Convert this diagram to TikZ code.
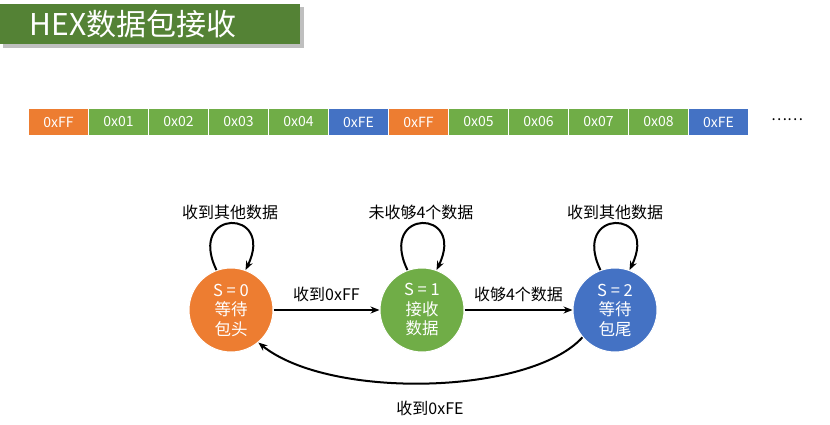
\documentclass[tikz,border=0pt]{standalone}
\usepackage{fontspec}
\setmainfont{Noto Sans CJK SC}
\usetikzlibrary{arrows.meta}
\definecolor{og}{HTML}{ED7D31}
\definecolor{gn}{HTML}{70AD47}
\definecolor{bl}{HTML}{4472C4}
\definecolor{tg}{HTML}{548235}
\begin{document}
\begin{tikzpicture}[x=1pt,y=-1pt,
 cell/.style={draw=white,line width=1pt,minimum width=60pt,minimum height=27pt,inner sep=0,text=white,font=\fontsize{14}{15}\selectfont,anchor=north west},
 st/.style={circle,draw=white,line width=1pt,minimum size=84pt,text=white,align=center,font=\fontsize{16.5}{19.5}\selectfont,inner sep=0},
 lab/.style={font=\fontsize{16}{17}\selectfont},
 arr/.style={-{Stealth[length=9pt,width=7pt]},line width=2pt}]
\useasboundingbox (0,0) rectangle (830,425);
\fill[white] (0,0) rectangle (830,425);
\fill[black!25] (3,7) rectangle (304,48);
\node[fill=tg,minimum width=300pt,minimum height=40pt,anchor=north west,inner sep=0] (title) at (0,4) {};
\node[text=white,font=\fontsize{30}{32}\selectfont,anchor=west] (tt) at (26,24) {HEX数据包接收};
\foreach \t/\c [count=\i from 0] in {0xFF/og,0x01/gn,0x02/gn,0x03/gn,0x04/gn,0xFE/bl,0xFF/og,0x05/gn,0x06/gn,0x07/gn,0x08/gn,0xFE/bl}
  \node[cell,fill=\c] (c\i) at (28+60*\i,108) {\t};
\node[font=\fontsize{15}{15}\selectfont] (dots) at (787,120) {……};
\node[st,fill=og] (s0) at (231,310) {S = 0\\等待\\包头};
\node[st,fill=gn] (s1) at (422,310) {S = 1\\接收\\数据};
\node[st,fill=bl] (s2) at (615,310) {S = 2\\等待\\包尾};
\foreach \s in {s0,s1,s2}
  \draw[arr] (\s.110) .. controls +(-30,-62) and +(30,-62) .. (\s.70);
\node[lab] (l0) at (230,212) {收到其他数据};
\node[lab] (l1) at (421,212) {未收够4个数据};
\node[lab] (l2) at (615,212) {收到其他数据};
\draw[arr] (s0) -- (s1) node[midway,above=4pt,lab] (e01) {收到0xFF};
\draw[arr] (s1) -- (s2) node[midway,above=4pt,lab] (e12) {收够4个数据};
\draw[arr] (s2.-140) .. controls (530,395) and (330,400) .. (s0.-50);
\node[lab] (e20) at (430,408) {收到0xFE};
\end{tikzpicture}
\end{document}
